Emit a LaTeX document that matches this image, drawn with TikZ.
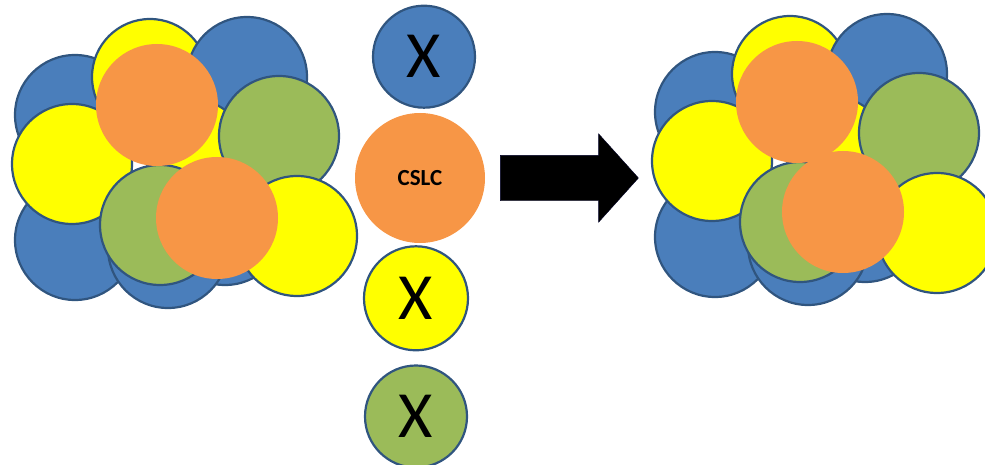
\documentclass[tikz,border=0pt]{standalone}
\usepackage{fontspec}
\setmainfont{Carlito}
\usetikzlibrary{shapes.arrows, positioning}

\definecolor{ballblue}{HTML}{4A7EBB}
\definecolor{ballyellow}{HTML}{FFFF00}
\definecolor{ballgreen}{HTML}{9BBB59}
\definecolor{ballorange}{HTML}{F79646}
\definecolor{ballline}{HTML}{30557F}

\tikzset{
  ball/.style={circle, draw=ballline, line width=2.2pt, inner sep=0pt},
  cslcball/.style={circle, fill=ballorange, inner sep=0pt, minimum size=122pt},
  xball/.style={ball, font=\fontsize{66}{66}\selectfont},
}

% one crystal cluster: prefix, shift, position of the lower orange ball
\newcommand{\drawcluster}[4]{%
  \begin{scope}[shift={#2}]
    \foreach \n/\c/\x/\y/\d in {bl1/ballblue/75/115/120, bl2/ballblue/75/240/120,
        yt/ballyellow/150/77/116, bt/ballblue/247/77/120, ym/ballyellow/195/150/100,
        bm/ballblue/225/225/120, bb/ballblue/168/248/120, yl/ballyellow/72/164/120,
        gr/ballgreen/279/136/120, gb/ballgreen/160/225/120, yr/ballyellow/297/236/120}
      \node[ball, fill=\c, minimum size=\d pt] (#1-\n) at (\x,\y) {};
    \node[cslcball] (#1-ot) at (157,105) {};
    \node[cslcball] (#1-ob) at (#3,#4) {};
  \end{scope}
}

\begin{document}
\begin{tikzpicture}[x=1pt, y=-1pt]
  \clip (0,0) rectangle (985,465);

  \drawcluster{left}{(0,0)}{217}{218}

  % middle column
  \node[cslcball, minimum size=130pt] (cslc) at (420,178) {\textbf{\fontsize{23}{23}\selectfont CSLC}};
  \node[xball, fill=ballblue, minimum size=102pt, above=4pt of cslc, xshift=4pt] (xblue) {X};
  \node[xball, fill=ballyellow, minimum size=104pt, below=2pt of cslc, xshift=-4pt] (xyellow) {X};
  \node[xball, fill=ballgreen, minimum size=102pt, below=13pt of xyellow] (xgreen) {X};

  \node[single arrow, fill=black, draw=black!85!blue, inner sep=0pt,
        minimum width=88pt, minimum height=138pt, text height=45pt,
        single arrow head extend=21.5pt, single arrow tip angle=96,
        right=15pt of cslc] (arrow) {};

  \drawcluster{right}{(640,-3)}{203}{215}
\end{tikzpicture}
\end{document}
